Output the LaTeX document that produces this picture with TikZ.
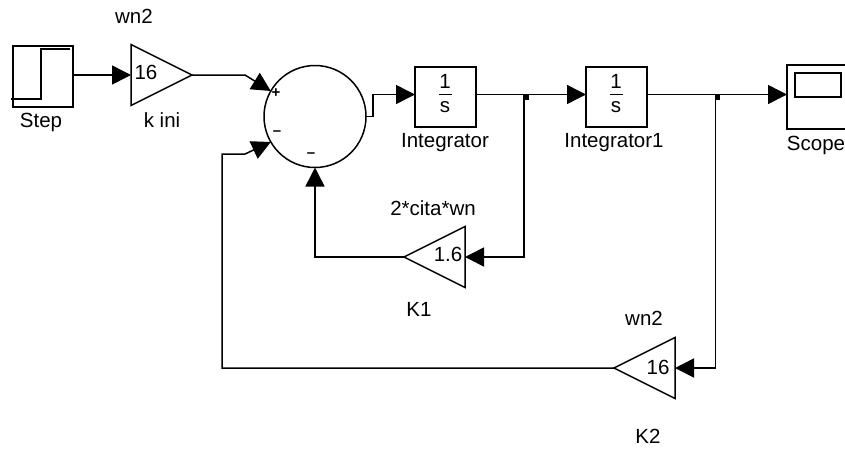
\documentclass[tikz,border=0pt]{standalone}
\usepackage{fontspec}
\setmainfont{Liberation Sans}
\usepackage{tikz}
\usetikzlibrary{positioning}
\usetikzlibrary{arrows.meta}
\usetikzlibrary{shapes.geometric}
\pgfdeclarelayer{nodelayer}
\pgfdeclarelayer{edgelayer}
\pgfsetlayers{nodelayer,edgelayer,main}
\tikzset{
  wire/.style={line width=1.5pt, -{Triangle[length=19pt, width=19pt]}},
  line/.style={line width=1.5pt},
  block/.style={draw, line width=1.5pt, rectangle, inner sep=0pt, outer sep=0pt},
  gain/.style={draw, line width=1.5pt, isosceles triangle, isosceles triangle stretches, minimum width=61pt, minimum height=61pt, inner sep=0pt, outer sep=0pt, anchor=lower side},
  txt/.style={inner sep=0pt, font=\fontsize{20.5}{24}\selectfont},
  sign/.style={inner sep=0pt, font=\fontsize{15}{16}\selectfont\bfseries},
  bar/.style={fill, inner sep=0pt, minimum width=13pt, minimum height=1.5pt},
  dot/.style={fill, rectangle, inner sep=0pt, minimum size=5pt}
}

\begin{document}
\begin{tikzpicture}[x=1pt, y=-1pt]
  \useasboundingbox (0, 0) rectangle (845, 448);
  \begin{pgfonlayer}{nodelayer}
    \node [block, minimum width=60pt, minimum height=61pt] (step) at (43, 76.5) {};
    \node [gain] (g0) at (131, 75) {};
    \node [circle, draw, line width=1.5pt, minimum size=102pt, inner sep=0pt, outer sep=0pt] (sum) at (315, 116.5) {};
    \node [block, minimum width=61pt, minimum height=60pt] (int0) at (445.5, 97) {};
    \node [block, minimum width=61pt, minimum height=60pt] (int1) at (616.5, 97) {};
    \node [block, minimum width=64pt, minimum height=64pt] (scope) at (819, 97) {};
    \node [block, minimum width=46pt, minimum height=24pt] (screen) at (818, 85) {};
    \node [gain, shape border rotate=180] (k1) at (465, 257) {};
    \node [gain, shape border rotate=180] (k2) at (675, 368) {};
    \node [dot] (d0) at (526.5, 97) {};
    \node [dot] (d1) at (717.5, 97) {};
    \node [txt] (t0) at (134, 16) {wn2};
    \node [txt] (t1) at (41, 122) {Step};
    \node [txt] (t2) at (146, 72) {16};
    \node [txt] (t3) at (162, 120) {k ini};
    \node [txt] (t4) at (445, 142.5) {Integrator};
    \node [txt] (t5) at (614, 142.5) {Integrator1};
    \node [txt] (t6) at (816, 145) {Scope};
    \node [txt] (t7) at (448, 254) {1.6};
    \node [txt] (t8) at (433, 208) {2*cita*wn};
    \node [txt] (t9) at (419, 309) {K1};
    \node [txt] (t10) at (644, 318) {wn2};
    \node [txt] (t11) at (658, 367) {16};
    \node [txt] (t12) at (648, 436) {K2};
    \node [txt] (one0) at (445, 81) {1};
    \node [bar] (bar0) at (445, 94.5) {};
    \node [txt] (s0) at (445, 107) {s};
    \node [txt] (one1) at (616, 81) {1};
    \node [bar] (bar1) at (616, 94.5) {};
    \node [txt] (s1) at (616, 107) {s};
    \node [sign] (p0) at (276, 93) {+};
    \node [sign] (m0) at (277, 133) {–};
    \node [sign] (m1) at (311, 155) {–};
    \coordinate (b0) at (524, 94.5);
    \coordinate (b1) at (715.5, 94.5);
    \coordinate (c0) at (245, 75);
    \coordinate (c1) at (373, 116.5);
    \coordinate (c2) at (222, 154);
    \coordinate (c3) at (245, 154);
    \coordinate (a0) at (11, 99);
    \coordinate (a1) at (41, 99);
    \coordinate (a2) at (41, 49);
    \coordinate (a3) at (70, 49);
    \coordinate (o0) at (476, 94.5);
    \coordinate (o1) at (647, 94.5);
    \coordinate (i0) at (415, 94.5);
    \coordinate (i1) at (586, 94.5);
    \coordinate (i2) at (787, 94.5);
  \end{pgfonlayer}
  \begin{pgfonlayer}{edgelayer}
    \draw [line] (a0) to (a1) to (a2) to (a3);
    \draw [wire] (step.east |- g0.lower side) to (g0.lower side);
    \draw [wire] (g0.apex) to (c0) to (sum.150);
    \draw [wire] (sum.east) to (c1) to (c1 |- i0) to (i0);
    \draw [wire] (o0) to (i1);
    \draw [wire] (o1) to (i2);
    \draw [wire] (b0) |- (k1.lower side);
    \draw [wire] (b1) |- (k2.lower side);
    \draw [wire] (k1.apex) -| (sum.south);
    \draw [wire] (k2.apex) -| (c2) to (c3) to (sum.210);
  \end{pgfonlayer}
\end{tikzpicture}
\end{document}
